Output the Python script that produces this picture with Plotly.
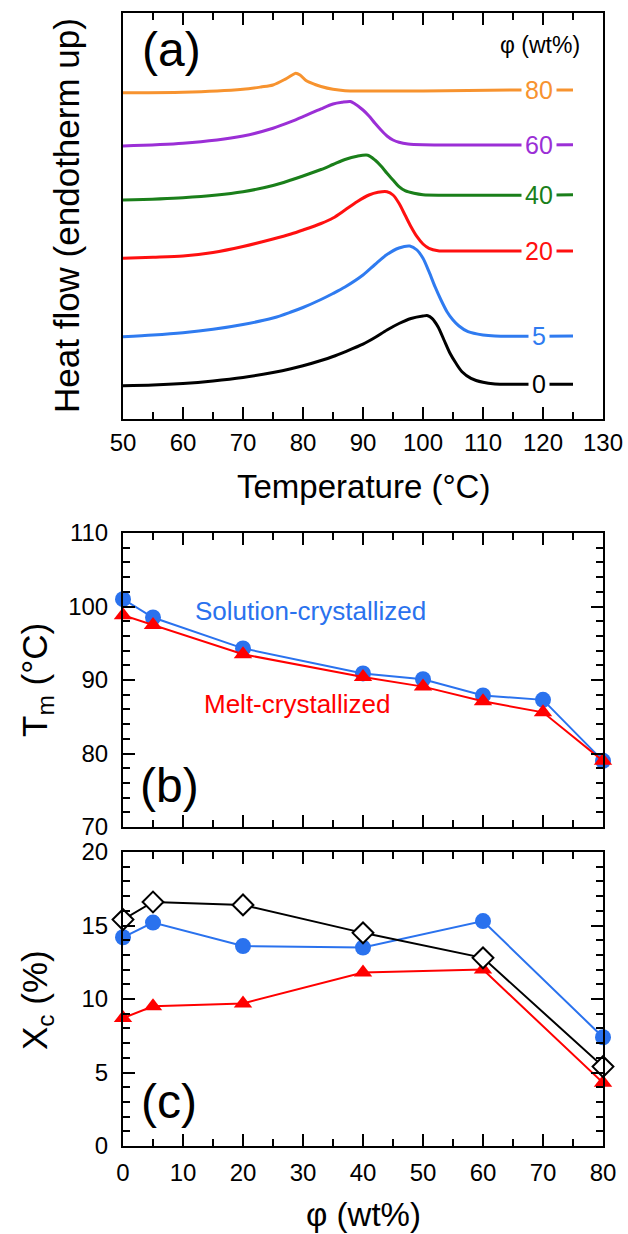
import plotly.graph_objects as go

# ---------------- Panel (a): DSC curves (arbitrary heat-flow units, offset) ----------------
T0 = [50,55,60,65,70,75,78,80,83,85,87,90,92,94,96,98,100,100.8,101.5,102.5,103.5,104.5,105.5,106.5,108,110,112,115,125]
H0 = [3.33,3.40,3.55,3.80,4.15,4.65,5.02,5.32,5.85,6.25,6.72,7.48,8.15,8.90,9.55,10.05,10.30,10.33,10.07,9.23,7.90,6.57,5.57,4.73,4.07,3.67,3.50,3.47,3.47]

T5 = [50,55,60,65,70,75,78,80,83,85,87,90,92,94,96,97.8,99,100,101,102,103,104,105,106,107.5,110,112,125]
H5 = [8.23,8.40,8.63,8.97,9.45,10.10,10.70,11.15,11.95,12.55,13.20,14.40,15.45,16.45,17.10,17.30,16.90,16.07,14.73,13.23,11.90,10.73,9.90,9.30,8.73,8.40,8.30,8.30]

T20 = [50,55,60,65,70,75,78,80,83,85,87,89,91,92.5,94,95,96,97,98,99,100,101,102.5,105,125]
H20 = [16.07,16.17,16.30,16.65,17.25,18.00,18.50,18.90,19.55,20.10,20.90,21.73,22.40,22.67,22.73,22.40,21.57,20.40,19.23,18.23,17.50,17.07,16.83,16.80,16.80]

T40 = [50,60,70,75,78,80,83,85,87,89,90.8,92,93,94,95,96,97,98.5,100,125]
H40 = [21.90,22.13,22.73,23.35,23.90,24.30,24.95,25.45,25.95,26.28,26.38,25.90,25.30,24.57,23.90,23.23,22.83,22.57,22.43,22.43]

T60 = [50,60,70,75,78,80,83,85,86.5,87.9,88.5,90,91,92,93,94,95,96,97.5,100,125]
H60 = [27.30,27.57,28.30,29.07,29.73,30.23,31.02,31.50,31.67,31.75,31.57,30.90,30.30,29.57,28.90,28.30,27.90,27.67,27.50,27.43,27.43]

T80 = [50,60,70,73,75,77,78.5,78.8,79.5,80.5,82,83,85,87,90,100,115,125]
H80 = [32.63,32.67,32.97,33.20,33.40,33.97,34.50,34.57,34.40,33.85,33.45,33.25,32.97,32.83,32.80,32.80,32.90,32.90]

curve_labels = ["0", "5", "20", "40", "60", "80"]
curve_colors = ["#000000", "#2F7BF0", "#FF1010", "#1A7F1A", "#9B2FD6", "#F7932F"]
curves_T = [T0, T5, T20, T40, T60, T80]
curves_H = [H0, H5, H20, H40, H60, H80]

# ---------------- Panel (b): melting temperature ----------------
phi_b = [0, 5, 20, 40, 50, 60, 70, 80]
Tm_solution = [101.0, 98.5, 94.3, 90.9, 90.1, 87.9, 87.3, 79.0]
Tm_melt = [98.8, 97.5, 93.5, 90.4, 89.1, 87.1, 85.6, 79.0]

# ---------------- Panel (c): crystallinity ----------------
phi_c = [0, 5, 20, 40, 60, 80]
Xc_solution = [14.2, 15.2, 13.6, 13.5, 15.3, 7.4]
Xc_melt = [8.7, 9.5, 9.7, 11.8, 12.0, 4.3]
Xc_diamond = [15.4, 16.6, 16.4, 14.5, 12.8, 5.4]

FONT = "Liberation Sans, Arial, Helvetica, sans-serif"
W, H = 628, 1234
BLUE = "#2A72EE"
RED = "#FF0000"

def px(x):
    return x / W

def py(y):
    return 1 - y / H

fig = go.Figure()

for T, Hf, c in zip(curves_T, curves_H, curve_colors):
    fig.add_trace(go.Scatter(x=T, y=Hf, mode="lines", line=dict(color=c, width=3, shape="spline", smoothing=0.8),
                             xaxis="x", yaxis="y", showlegend=False, hoverinfo="skip"))

# panel (b)
fig.add_trace(go.Scatter(x=phi_b, y=Tm_solution, mode="lines+markers", line=dict(color=BLUE, width=2),
                         marker=dict(symbol="circle", size=16, color=BLUE), cliponaxis=False,
                         xaxis="x2", yaxis="y2", showlegend=False))
fig.add_trace(go.Scatter(x=phi_b, y=Tm_melt, mode="lines+markers", line=dict(color=RED, width=2),
                         marker=dict(symbol="triangle-up", size=16, color=RED), cliponaxis=False,
                         xaxis="x2", yaxis="y2", showlegend=False))

# panel (c)
fig.add_trace(go.Scatter(x=phi_c, y=Xc_melt, mode="lines+markers", line=dict(color=RED, width=2),
                         marker=dict(symbol="triangle-up", size=16, color=RED), cliponaxis=False,
                         xaxis="x3", yaxis="y3", showlegend=False))
fig.add_trace(go.Scatter(x=phi_c, y=Xc_solution, mode="lines+markers", line=dict(color=BLUE, width=2),
                         marker=dict(symbol="circle", size=16, color=BLUE), cliponaxis=False,
                         xaxis="x3", yaxis="y3", showlegend=False))
fig.add_trace(go.Scatter(x=phi_c, y=Xc_diamond, mode="lines+markers", line=dict(color="black", width=2),
                         marker=dict(symbol="diamond", size=16, color="white", line=dict(color="black", width=2)),
                         cliponaxis=False, xaxis="x3", yaxis="y3", showlegend=False))

xdom = [px(123), px(603)]
axis_common = dict(showline=True, linewidth=2, linecolor="black", mirror="ticks", showgrid=False, zeroline=False,
                   ticks="inside", ticklen=12, tickwidth=1.8, tickcolor="black", automargin=False,
                   tickfont=dict(family=FONT, size=24, color="black"))


def ann(x, y, text, size, color="black", xref="paper", yref="paper", **kw):
    d = dict(x=x, y=y, xref=xref, yref=yref, text=text, showarrow=False,
             font=dict(family=FONT, size=size, color=color), xanchor="center", yanchor="middle")
    d.update(kw)
    return d


annotations = []
# curve labels in (a)
for lab, T, Hf, c in zip(curve_labels, curves_T, curves_H, curve_colors):
    annotations.append(ann(119.3, Hf[-1], lab, 25, c, "x", "y", bgcolor="white", borderpad=3))
annotations += [
    ann(119.5, 37.4, "φ (wt%)", 23, "black", "x", "y"),
    ann(58.0, 37.0, "(a)", 48, "black", "x", "y"),
    ann(7.7, 75.6, "(b)", 48, "black", "x2", "y2"),
    ann(7.7, 3.0, "(c)", 48, "black", "x3", "y3"),
    ann(31.2, 99.4, "Solution-crystallized", 26, BLUE, "x2", "y2"),
    ann(29.0, 86.8, "Melt-crystallized", 26, RED, "x2", "y2"),
    # axis titles
    ann(px(67), py(216), "Heat flow (endotherm up)", 35, textangle=-90),
    ann(px(363), py(487), "Temperature (°C)", 33),
    ann(px(37), py(680), "T<sub>m</sub> (°C)", 35, textangle=-90),
    ann(px(37), py(1000), "X<sub>c</sub> (%)", 35, textangle=-90),
    ann(px(363), py(1214), "φ (wt%)", 33),
]

fig.update_layout(
    template="none",
    width=W, height=H, margin=dict(l=0, r=0, t=0, b=0, autoexpand=False),
    paper_bgcolor="white", plot_bgcolor="white",
    showlegend=False,
    xaxis=dict(axis_common, domain=xdom, range=[50, 130], tick0=50, dtick=10, anchor="y",
               minor=dict(ticks="inside", dtick=5, ticklen=7, tickwidth=1.8, tickcolor="black"),
               ticklabelstandoff=1),
    yaxis=dict(showline=True, linewidth=2, linecolor="black", mirror=True, showgrid=False, zeroline=False,
               showticklabels=False, ticks="", automargin=False,
               domain=[py(419), py(13)], range=[0, 40.6], anchor="x"),
    xaxis2=dict(axis_common, domain=xdom, range=[0, 80], dtick=10, anchor="y2", showticklabels=False,
                minor=dict(ticks="inside", dtick=5, ticklen=7, tickwidth=1.8, tickcolor="black")),
    yaxis2=dict(axis_common, domain=[py(827), py(533)], range=[70, 110], dtick=10, anchor="x2",
                minor=dict(ticks="inside", dtick=2, ticklen=7, tickwidth=1.8, tickcolor="black"),
                ticklabelstandoff=8),
    xaxis3=dict(axis_common, domain=xdom, range=[0, 80], dtick=10, anchor="y3",
                minor=dict(ticks="inside", dtick=5, ticklen=7, tickwidth=1.8, tickcolor="black"),
                ticklabelstandoff=4),
    yaxis3=dict(axis_common, domain=[py(1146), py(852)], range=[0, 20], dtick=5, anchor="x3",
                minor=dict(ticks="inside", dtick=1, ticklen=7, tickwidth=1.8, tickcolor="black"),
                ticklabelstandoff=8),
    annotations=annotations,
)

fig.write_html("out.html", config={"displayModeBar": False},
               post_script="document.body.style.margin='0';document.body.style.overflow='hidden';")
